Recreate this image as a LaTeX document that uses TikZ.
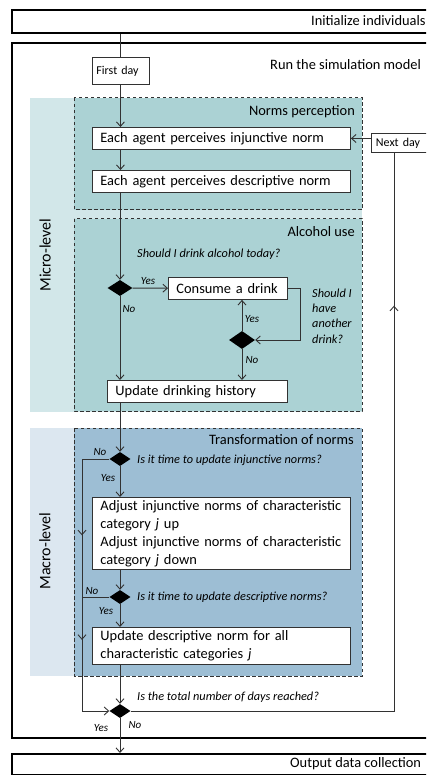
\documentclass[tikz,border=0pt]{standalone}
\usepackage{fontspec}
\setmainfont{Carlito}
\usetikzlibrary{shapes.geometric, arrows.meta, decorations.markings}

% colours of the two levels and their regions
\definecolor{microband}{RGB}{210,231,233}
\definecolor{microfill}{RGB}{171,210,212}
\definecolor{macroband}{RGB}{220,231,240}
\definecolor{macrofill}{RGB}{157,190,212}
\definecolor{flowline}{RGB}{50,50,50}

\tikzset{
  x=1pt, y=-1pt,
  >={Straight Barb[length=4.5pt,width=8pt]},
  bigbox/.style={draw=black, line width=1.6pt, inner sep=0pt, anchor=north west},
  stepbox/.style={draw=flowline, fill=white, line width=0.9pt, anchor=north west, inner xsep=8pt, inner ysep=1pt, align=left, font=\fontsize{14.4}{18}\selectfont},
  daybox/.style={draw=flowline, fill=white, line width=0.9pt, anchor=north west, inner xsep=4.5pt, inner ysep=0pt, text width=48pt, align=left, font=\fontsize{12}{14}\selectfont},
  region/.style={draw=flowline, dash pattern=on 3.5pt off 2.5pt, line width=1pt},
  decision/.style={diamond, fill=black, inner sep=0pt, minimum width=21pt, minimum height=14pt},
  question/.style={anchor=west, font=\itshape\fontsize{12.3}{15.3}\selectfont, align=left, inner sep=0pt},
  answer/.style={font=\itshape\fontsize{11}{13}\selectfont, inner sep=0pt},
  regiontitle/.style={anchor=east, font=\fontsize{14.4}{17}\selectfont, inner sep=0pt},
  boxtitle/.style={anchor=west, font=\fontsize{14.4}{17}\selectfont, inner sep=0pt},
  levellabel/.style={rotate=90, font=\fontsize{16}{19}\selectfont, inner sep=0pt},
  flow/.style={draw=flowline, line width=0.9pt},
  midmark/.style={postaction={decorate}, decoration={markings, mark=at position #1 with {\arrow{>}}}},
  twomarks/.style 2 args={postaction={decorate}, decoration={markings, mark=at position #1 with {\arrow{>}}, mark=at position #2 with {\arrow{>}}}},
}

\newcommand{\decision}[4][]{ % #1: extra options, #2: node name, #3: x-coordinate, #4: y-coordinate
  \node[decision, #1] (#2) at (#3,#4) {};
}

\begin{document}
\begin{tikzpicture}
\useasboundingbox (0,0) rectangle (426,775);
\clip (0,0) rectangle (426,775);

% Level bands
\fill[microband] (30,98) rectangle (362,412);
\fill[macroband] (30,428) rectangle (362,676);

% Dashed regions
\filldraw[region, fill=microfill] (74,98) rectangle (362,210);
\filldraw[region, fill=microfill] (74,219) rectangle (362,411);
\filldraw[region, fill=macrofill] (74,428) rectangle (362,676);

% Outer boxes
\node[bigbox, minimum width=440pt, minimum height=23pt] (init) at (11,9) {};
\node[bigbox, minimum width=440pt, minimum height=695pt] (run) at (11,42) {};
\node[bigbox, minimum width=440pt, minimum height=20.5pt] (output) at (11,753) {};
\node[boxtitle] (initlabel) at (311,21) {Initialize individuals};
\node[boxtitle] (runlabel) at (270,65) {Run the simulation model};
\node[boxtitle] (outputlabel) at (290,764) {Output data collection};

% Level and region titles
\node[levellabel] (micro) at (45,255) {Micro-level};
\node[levellabel] (macro) at (45,551) {Macro-level};
\node[regiontitle] (normstitle) at (355,112) {Norms perception};
\node[regiontitle] (alcoholtitle) at (355,232) {Alcohol use};
\node[regiontitle] (transtitle) at (354,440) {Transformation of norms};

% Day boxes
\node[daybox, minimum height=27pt] (firstday) at (91.5,57) {First day};
\node[daybox, minimum height=19pt] (nextday) at (371,133) {Next day};

% Steps
\node[stepbox, text width=242pt, minimum height=22pt] (inj) at (92,127) {Each agent perceives injunctive norm};
\node[stepbox, text width=242pt, minimum height=22pt] (desc) at (92,170) {Each agent perceives descriptive norm};
\node[stepbox, text width=103pt, minimum height=22pt] (consume) at (168,277) {Consume a drink};
\node[stepbox, text width=164pt, minimum height=22pt] (history) at (107,380) {Update drinking history};
\node[stepbox, text width=242pt, minimum height=72pt] (adjust) at (92,497) {Adjust injunctive norms of characteristic\\category \textit{j} up\\Adjust injunctive norms of characteristic\\category \textit{j} down};
\node[stepbox, text width=242pt, minimum height=37pt] (update) at (92,627) {Update descriptive norm for all\\characteristic categories \textit{j}};

% Decisions
\decision[minimum width=25pt, minimum height=16pt]{d1}{120}{288}
\decision[minimum width=26pt, minimum height=18pt]{d2}{242}{340}
\decision{d3}{120}{459}
\decision{d4}{120}{597}
\decision{d5}{120}{711}

% Questions
\node[question] (q1) at (137,254) {Should I drink alcohol today?};
\node[question] (q2) at (312,316) {Should I\\have\\another\\drink?};
\node[question] (q3) at (137,460) {Is it time to update injunctive norms?};
\node[question] (q4) at (137,597) {Is it time to update descriptive norms?};
\node[question] (q5) at (137,697) {Is the total number of days reached?};

% Answers
\node[answer] (yes1) at (148,281) {Yes};
\node[answer] (no1) at (129,309) {No};
\node[answer] (yes2) at (252,319) {Yes};
\node[answer] (no2) at (252,360) {No};
\node[answer] (no3) at (100,452) {No};
\node[answer] (yes3) at (108,478) {Yes};
\node[answer] (no4) at (92,591) {No};
\node[answer] (yes4) at (106,611) {Yes};
\node[answer] (yes5) at (101,728) {Yes};
\node[answer] (no5) at (135,725) {No};

% Bends of the bypass and the day loop
\coordinate (bypass) at (82,711);
\coordinate (loop) at (394,711);

% Norms perception
\draw[flow] (init.south -| firstday) -- (firstday);
\draw[flow, ->] (firstday) -- (firstday |- inj.north);
\draw[flow, ->] (inj.south -| firstday) -- (desc.north -| firstday);
\draw[flow, ->] (nextday.west |- inj) -- (inj.east);

% Alcohol use
\draw[flow, ->] (desc.south -| d1) -- (d1);
\draw[flow, ->] (d1) -- (consume);
\draw[flow, ->] (d1) -- (d1 |- history.north);
\draw[flow, ->] (consume.east) -- ++(13,0) |- (d2);
\draw[flow, ->] (d2) -- (d2 |- consume.south);
\draw[flow, ->] (d2) -- (d2 |- history.north);

% Transformation of norms
\draw[flow, ->] (history.south -| d3) -- (d3);
\draw[flow, ->] (d3) -- (d3 |- adjust.north);
\draw[flow, ->] (adjust.south -| d4) -- (d4);
\draw[flow, ->] (d4) -- (d4 |- update.north);
\draw[flow] (d4) -- (d4 -| bypass);
\draw[flow, ->, twomarks={0.338}{0.679}] (d3) -| (bypass) -- (d5);
\draw[flow, ->] (update.south -| d5) -- (d5);

% End of the day
\draw[flow, ->] (d5) -- (d5 |- output.north);
\draw[flow, midmark=0.814] (d5) -- (loop) -- (loop |- nextday.south);

\end{tikzpicture}
\end{document}
